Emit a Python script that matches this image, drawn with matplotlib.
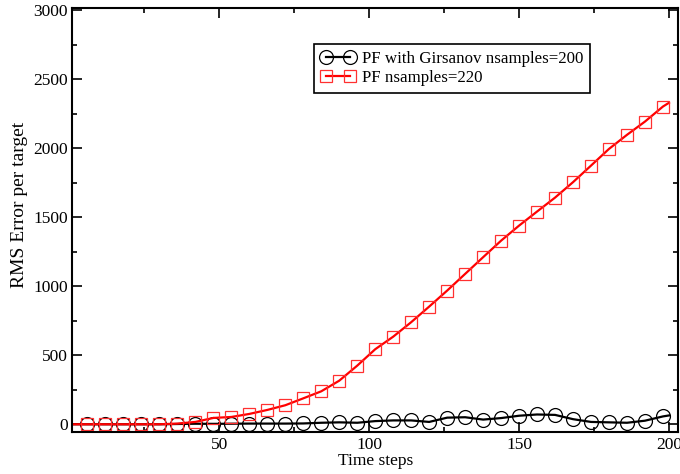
import matplotlib
matplotlib.use("Agg")
import matplotlib.pyplot as plt
from matplotlib.ticker import MultipleLocator

# time steps: line starts at t=1, markers every 6 steps, line ends at t=200
steps = [1, 6, 12, 18, 24, 30, 36, 42, 48, 54, 60, 66, 72, 78, 84, 90, 96,
         102, 108, 114, 120, 126, 132, 138, 144, 150, 156, 162, 168, 174,
         180, 186, 192, 198, 200]

girsanov_err = [0, 0, 0, 0, 0, 0, 2, 4, 3, 4, 5, 5, 5, 6, 11, 14, 11,
                23, 28, 28, 17, 48, 51, 34, 45, 62, 71, 68, 37, 17,
                14, 11, 26, 57, 64]

pf_err = [0, 0, 0, 0, 0, 0, 5, 17, 46, 53, 75, 104, 138, 188, 239, 316, 425,
          544, 635, 740, 853, 969, 1090, 1211, 1331, 1440, 1542, 1643, 1755,
          1875, 1996, 2098, 2194, 2303, 2330]

plt.rcParams["font.family"] = ["Liberation Serif", "DejaVu Serif"]

fig = plt.figure(figsize=(6.8, 4.74), dpi=100)
ax = fig.add_axes([0.1066, 0.0886, 0.8904, 0.8945])

marks = slice(1, len(steps) - 1)
ax.plot(steps, girsanov_err, color="black", lw=1.6, marker="o", ms=10,
        mfc="none", mec="black", mew=0.9, markevery=marks,
        label="PF with Girsanov nsamples=200")
ax.plot(steps, pf_err, color="red", lw=1.6, marker="s", ms=9,
        mfc="none", mec="#ff3030", mew=0.9, markevery=marks,
        label="PF nsamples=220")

ax.set_xlim(1, 203)
ax.set_ylim(-56, 3017)
ax.xaxis.set_major_locator(MultipleLocator(50))
ax.xaxis.set_minor_locator(MultipleLocator(25))
ax.yaxis.set_major_locator(MultipleLocator(500))
ax.yaxis.set_minor_locator(MultipleLocator(250))
ax.tick_params(which="both", direction="in", top=True, right=True,
               labelsize=12.5, width=1.2)
ax.tick_params(which="major", length=7.5)
ax.tick_params(which="minor", length=3.8)
for s in ax.spines.values():
    s.set_linewidth(1.5)

ax.set_xlabel("Time steps", fontsize=12.5, labelpad=0)
ax.set_ylabel("RMS Error per target", fontsize=14)
ax.yaxis.set_label_coords(-0.073, 0.535)

leg = ax.legend(loc="upper left", bbox_to_anchor=(0.399, 0.915),
                borderaxespad=0, fontsize=12.2, numpoints=2, handlelength=2.0,
                handletextpad=0.4, labelspacing=0.2, fancybox=False,
                framealpha=1, edgecolor="black", borderpad=0.4)
leg.get_frame().set_linewidth(1.2)

fig.savefig("out.png", dpi=100)
